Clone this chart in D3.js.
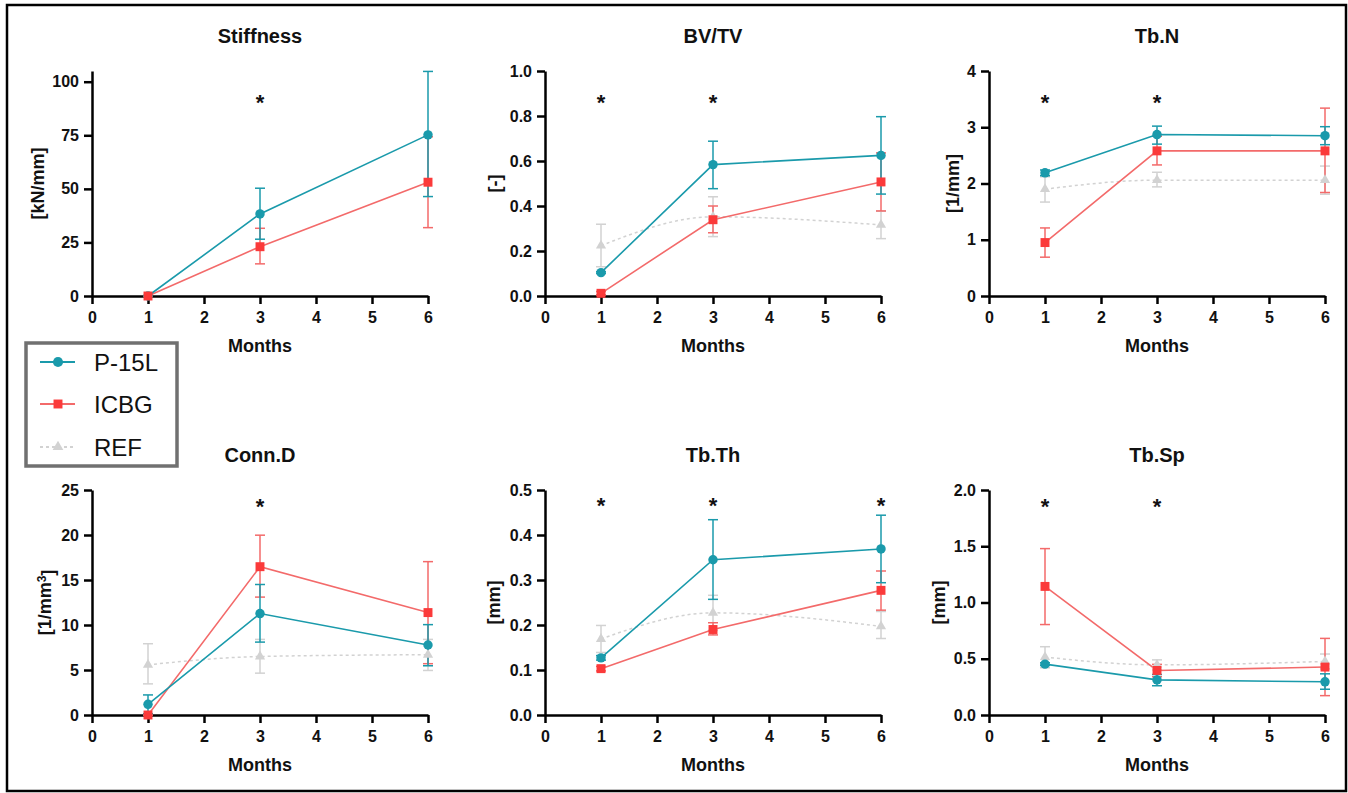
<!DOCTYPE html>
<html>
<head>
<meta charset="utf-8">
<script src="https://cdnjs.cloudflare.com/ajax/libs/d3/7.8.5/d3.min.js"></script>
<style>
  body { margin: 0; background: #fff; }
  svg { font-family: "Liberation Sans", Arial, sans-serif; }
  .axis path, .axis line { stroke: #000; stroke-width: 2.5; }
  .axis text { font-size: 16px; font-weight: bold; fill: #111; }
</style>
</head>
<body>
<script>
// months on the x axis
var months = [1, 3, 6];
var xTicks = [0, 1, 2, 3, 4, 5, 6];

// one entry per panel, left-to-right, top-to-bottom
var panelNames = ["Stiffness", "BV/TV", "Tb.N", "Conn.D", "Tb.Th", "Tb.Sp"];
var yLabels = ["[kN/mm]", "[-]", "[1/mm]", "[1/mm3]", "[mm]", "[mm]"];
var yMax = [105, 1.0, 4, 25, 0.5, 2.0];
var yTicks = [
  [0, 25, 50, 75, 100],
  [0, 0.2, 0.4, 0.6, 0.8, 1.0],
  [0, 1, 2, 3, 4],
  [0, 5, 10, 15, 20, 25],
  [0, 0.1, 0.2, 0.3, 0.4, 0.5],
  [0, 0.5, 1.0, 1.5, 2.0]
];
var yFormats = ["d", ".1f", "d", "d", ".1f", ".1f"];

// P-15L
var p15Mean = [
  [0, 38.3, 75.2],
  [0.104, 0.584, 0.625],
  [2.19, 2.87, 2.85],
  [1.19, 11.27, 7.78],
  [0.127, 0.345, 0.369],
  [0.452, 0.312, 0.295]
];
var p15Lo = [
  [0, 26.5, 46.4],
  [0.100, 0.477, 0.453],
  [2.14, 2.70, 2.69],
  [0.15, 8.1, 5.47],
  [0.122, 0.257, 0.294],
  [0.44, 0.26, 0.229]
];
var p15Hi = [
  [0, 50.3, 104.8],
  [0.108, 0.688, 0.797],
  [2.24, 3.02, 3.01],
  [2.23, 14.5, 10.04],
  [0.132, 0.434, 0.444],
  [0.464, 0.36, 0.366]
];

// ICBG
var icbgMean = [
  [0, 23.0, 53.1],
  [0.012, 0.339, 0.507],
  [0.95, 2.58, 2.58],
  [0, 16.48, 11.38],
  [0.103, 0.190, 0.277],
  [1.143, 0.396, 0.426]
];
var icbgLo = [
  [0, 15.0, 31.9],
  [0.005, 0.281, 0.378],
  [0.69, 2.33, 1.84],
  [0, 13.1, 5.7],
  [0.098, 0.178, 0.233],
  [0.804, 0.34, 0.172]
];
var icbgHi = [
  [0, 31.6, 74.3],
  [0.02, 0.40, 0.636],
  [1.21, 2.84, 3.34],
  [0, 19.98, 17.04],
  [0.108, 0.205, 0.320],
  [1.479, 0.45, 0.681]
];

// REF (no reference group for stiffness)
var refMean = [
  null,
  [0.224, 0.352, 0.316],
  [1.90, 2.06, 2.06],
  [5.58, 6.5, 6.7],
  [0.169, 0.227, 0.197],
  [0.515, 0.446, 0.476]
];
var refLo = [
  null,
  [0.130, 0.264, 0.255],
  [1.67, 1.94, 1.81],
  [3.46, 4.65, 4.95],
  [0.139, 0.188, 0.170],
  [0.42, 0.40, 0.41]
];
var refHi = [
  null,
  [0.319, 0.441, 0.377],
  [2.12, 2.20, 2.31],
  [7.92, 8.4, 8.4],
  [0.199, 0.266, 0.230],
  [0.607, 0.49, 0.542]
];

// significance stars
var starMonths = [[3], [1, 3], [1, 3], [3], [1, 3, 6], [1, 3]];
var starLevel = [93, 0.885, 3.54, 23.8, 0.477, 1.905];

// layout
var W = 1348, H = 793;
var colX = [92, 545, 989];
var rowY = [296, 715];
var plotW = 336, plotH = 225;
var labelOff = [54, 50, 36, 47, 51, 50];

var teal = "#1a9aab", redLine = "#f36a6a", redMark = "#fb3a3a", gray = "#d2d2d2";

var svg = d3.select("body").append("svg")
  .attr("width", W)
  .attr("height", H);

svg.append("rect")
  .attr("x", 7).attr("y", 5)
  .attr("width", 1339).attr("height", 786)
  .attr("fill", "#fff")
  .attr("stroke", "#000")
  .attr("stroke-width", 2.5);

var xScale = d3.scaleLinear().domain([0, 6]).range([0, plotW]);

function rows(mean, lo, hi){
  return months.map(function(m, i){ return {m: m, v: mean[i], lo: lo[i], hi: hi[i]}; });
}

for (var p = 0; p < panelNames.length; p++){
  var ox = colX[p % 3], oy = rowY[Math.floor(p / 3)];
  var g = svg.append("g").attr("transform", "translate(" + ox + "," + (oy - plotH) + ")");
  var yScale = d3.scaleLinear().domain([0, yMax[p]]).range([plotH, 0]);

  // axes
  g.append("g")
    .attr("class", "axis")
    .attr("transform", "translate(0," + plotH + ")")
    .call(d3.axisBottom(xScale).tickValues(xTicks).tickSize(8).tickSizeOuter(0).tickPadding(8).tickFormat(d3.format("d")));
  g.append("g")
    .attr("class", "axis")
    .call(d3.axisLeft(yScale).tickValues(yTicks[p]).tickSize(8).tickSizeOuter(0).tickPadding(5).tickFormat(d3.format(yFormats[p])));

  // title
  g.append("text")
    .attr("x", plotW / 2).attr("y", -28)
    .attr("text-anchor", "middle")
    .style("font-size", "20px").style("font-weight", "bold").attr("fill", "#111")
    .text(panelNames[p]);

  // x label
  g.append("text")
    .attr("x", plotW / 2).attr("y", plotH + 56)
    .attr("text-anchor", "middle")
    .style("font-size", "18px").style("font-weight", "bold").attr("fill", "#111")
    .text("Months");

  // y label
  var yl = g.append("text")
    .attr("transform", "translate(" + (-labelOff[p]) + "," + (plotH / 2) + ") rotate(-90)")
    .attr("text-anchor", "middle")
    .attr("dy", "0.35em")
    .style("font-size", "18px").style("font-weight", "bold").attr("fill", "#111");
  if (yLabels[p] === "[1/mm3]"){
    yl.append("tspan").text("[1/mm");
    yl.append("tspan").attr("dy", "-0.45em").style("font-size", "12px").text("3");
    yl.append("tspan").attr("dy", "0.45em").text("]");
  } else {
    yl.text(yLabels[p]);
  }

  var ref = refMean[p] ? {d: rows(refMean[p], refLo[p], refHi[p]), line: gray, mark: gray, shape: "tri", dash: "3,3", w: 1.5} : null;
  var p15 = {d: rows(p15Mean[p], p15Lo[p], p15Hi[p]), line: teal, mark: teal, shape: "circle", dash: null, w: 1.6};
  var icbg = {d: rows(icbgMean[p], icbgLo[p], icbgHi[p]), line: redLine, mark: redMark, shape: "square", dash: null, w: 1.6};

  // lines and error bars first (teal bars over red), then markers (red over teal)
  var lineOrder = (ref ? [ref] : []).concat([icbg, p15]);
  var markOrder = (ref ? [ref] : []).concat([p15, icbg]);

  lineOrder.forEach(function(s){
    var line = d3.line()
      .x(function(d){ return xScale(d.m); })
      .y(function(d){ return yScale(d.v); })
      .curve(s.shape === "tri" ? d3.curveMonotoneX : d3.curveLinear);

    g.append("path")
      .datum(s.d)
      .attr("d", line)
      .attr("fill", "none")
      .attr("stroke", s.line)
      .attr("stroke-width", s.w)
      .attr("stroke-dasharray", s.dash);

    var eb = g.append("g").attr("stroke", s.line).attr("stroke-width", 1.5);
    eb.selectAll(".v").data(s.d).enter().append("line")
      .attr("x1", function(d){ return xScale(d.m); })
      .attr("x2", function(d){ return xScale(d.m); })
      .attr("y1", function(d){ return yScale(d.lo); })
      .attr("y2", function(d){ return yScale(d.hi); });
    eb.selectAll(".ct").data(s.d).enter().append("line")
      .attr("x1", function(d){ return xScale(d.m) - 5; })
      .attr("x2", function(d){ return xScale(d.m) + 5; })
      .attr("y1", function(d){ return yScale(d.hi); })
      .attr("y2", function(d){ return yScale(d.hi); });
    eb.selectAll(".cb").data(s.d).enter().append("line")
      .attr("x1", function(d){ return xScale(d.m) - 5; })
      .attr("x2", function(d){ return xScale(d.m) + 5; })
      .attr("y1", function(d){ return yScale(d.lo); })
      .attr("y2", function(d){ return yScale(d.lo); });
  });

  markOrder.forEach(function(s){
    var sym = s.shape === "circle" ? d3.symbol().type(d3.symbolCircle).size(70)
            : s.shape === "square" ? d3.symbol().type(d3.symbolSquare).size(80)
            : d3.symbol().type(d3.symbolTriangle).size(45);
    g.selectAll(null).data(s.d).enter().append("path")
      .attr("d", sym)
      .attr("transform", function(d){ return "translate(" + xScale(d.m) + "," + yScale(d.v) + ")"; })
      .attr("fill", s.mark);
  });

  // stars
  g.selectAll(null).data(starMonths[p]).enter().append("text")
    .attr("x", function(d){ return xScale(d); })
    .attr("y", yScale(starLevel[p]) + 13)
    .attr("text-anchor", "middle")
    .style("font-size", "22px").style("font-weight", "bold").attr("fill", "#111")
    .text("*");
}

// legend
var lg = svg.append("g");
lg.append("rect")
  .attr("x", 26).attr("y", 343)
  .attr("width", 151).attr("height", 123)
  .attr("fill", "#fff")
  .attr("stroke", "#707070")
  .attr("stroke-width", 3.5);

var legendItems = [
  {name: "P-15L", line: teal, mark: teal, type: d3.symbolCircle, size: 80, dash: null, y: 362},
  {name: "ICBG", line: redLine, mark: redMark, type: d3.symbolSquare, size: 80, dash: null, y: 404},
  {name: "REF", line: gray, mark: gray, type: d3.symbolTriangle, size: 50, dash: "3,3", y: 447}
];
legendItems.forEach(function(it){
  lg.append("line")
    .attr("x1", 40).attr("x2", 75)
    .attr("y1", it.y).attr("y2", it.y)
    .attr("stroke", it.line).attr("stroke-width", 2)
    .attr("stroke-dasharray", it.dash);
  lg.append("path")
    .attr("d", d3.symbol().type(it.type).size(it.size))
    .attr("transform", "translate(58," + it.y + ")")
    .attr("fill", it.mark);
  lg.append("text")
    .attr("x", 94).attr("y", it.y + 8.5)
    .style("font-size", "24px").attr("fill", "#111")
    .text(it.name);
});
</script>
</body>
</html>
